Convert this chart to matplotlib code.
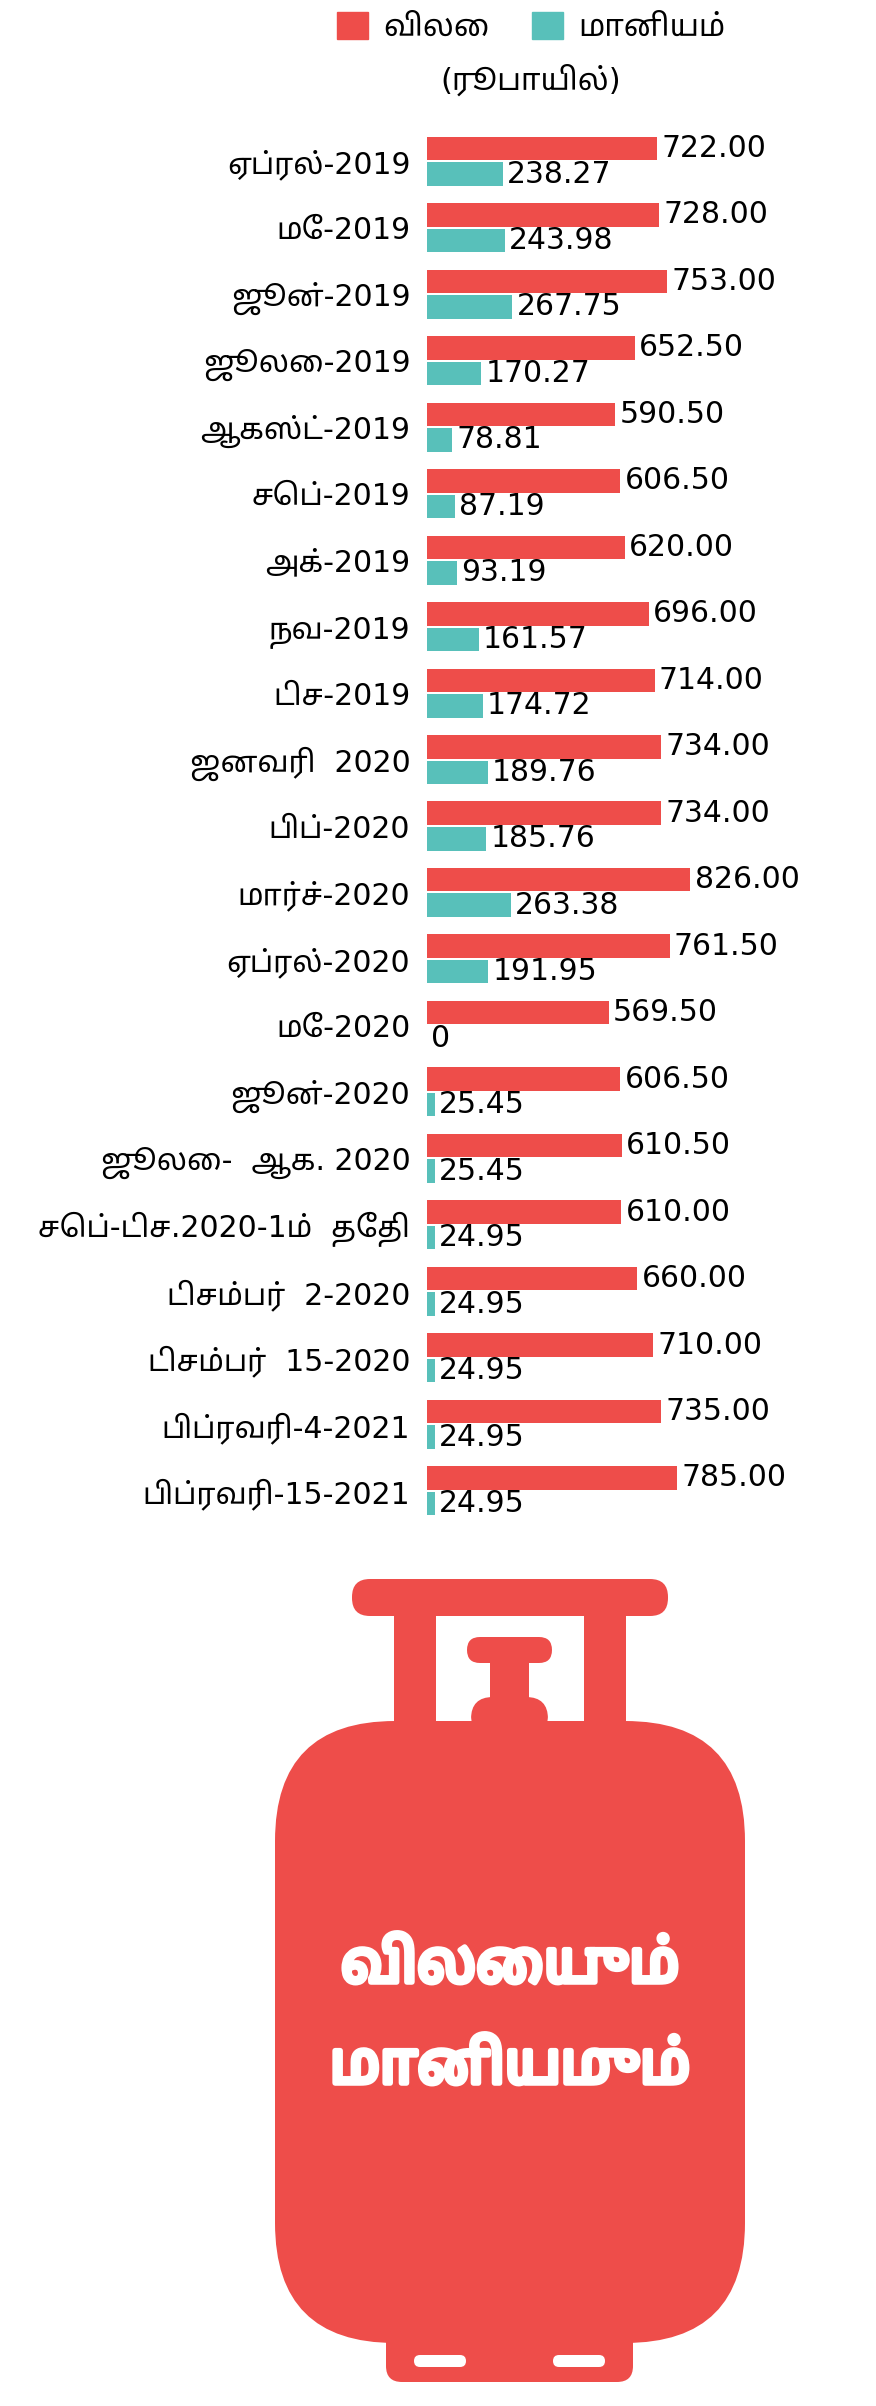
import numpy as np
import matplotlib.pyplot as plt
import matplotlib.patheffects as pe
from matplotlib import font_manager
from matplotlib.patches import FancyBboxPatch, Rectangle, Patch

# LPG cylinder price vs subsidy (rupees)
months = ['ஏப்ரல்-2019', 'மே-2019', 'ஜூன்-2019', 'ஜூலை-2019', 'ஆகஸ்ட்-2019',
          'செப்-2019', 'அக்-2019', 'நவ-2019', 'டிச-2019', 'ஜனவரி  2020',
          'பிப்-2020', 'மார்ச்-2020', 'ஏப்ரல்-2020', 'மே-2020', 'ஜூன்-2020',
          'ஜூலை-  ஆக. 2020', 'செப்-டிச.2020-1ம்  தேதி', 'டிசம்பர்  2-2020',
          'டிசம்பர்  15-2020', 'பிப்ரவரி-4-2021', 'பிப்ரவரி-15-2021']
price = [722.00, 728.00, 753.00, 652.50, 590.50, 606.50, 620.00, 696.00, 714.00, 734.00,
         734.00, 826.00, 761.50, 569.50, 606.50, 610.50, 610.00, 660.00, 710.00, 735.00,
         785.00]
subsidy = [238.27, 243.98, 267.75, 170.27, 78.81, 87.19, 93.19, 161.57, 174.72, 189.76,
           185.76, 263.38, 191.95, 0, 25.45, 25.45, 24.95, 24.95, 24.95, 24.95, 24.95]
legend_names = ['விலை', 'மானியம்']
unit_text = '(ரூபாயில்)'
title_lines = ['விலையும்', 'மானியமும்']

red = '#EE4D4A'
teal = '#58C0BA'

# pick up any font that has Tamil glyphs, keep DejaVu first for the digits
names = {f.name for f in font_manager.fontManager.ttflist}
tamil = [n for n in ['Noto Sans Tamil', 'Noto Serif Tamil', 'Lohit Tamil', 'Latha',
                     'Nirmala UI', 'FreeSans', 'FreeSerif'] if n in names]
plt.rcParams['font.family'] = ['DejaVu Sans'] + tamil

W, H = 876, 2406
fig = plt.figure(figsize=(W / 100, H / 100), dpi=100)

# background axes in pixel units for the cylinder drawing
bg = fig.add_axes([0, 0, 1, 1])
bg.set_xlim(0, W)
bg.set_ylim(H, 0)
bg.axis('off')

# bar chart
ax = fig.add_axes([427 / W, (H - 1524) / H, 440 / W, 1396 / H])
ax.set_facecolor('none')
y = np.arange(len(months))
bh = 0.354
off = 0.192
b1 = ax.barh(y - off, price, height=bh, color=red)
b2 = ax.barh(y + off, subsidy, height=bh, color=teal)
ax.set_xlim(0, 1380)
ax.set_ylim(len(months) - 0.5, -0.5)
ax.set_yticks(y, months)
ax.set_xticks([])
ax.tick_params(axis='y', length=0, pad=12, labelsize=21.5)
for s in ax.spines.values():
    s.set_visible(False)
ax.bar_label(b1, labels=[f'{v:.2f}' for v in price], padding=3, fontsize=21.5)
ax.bar_label(b2, labels=['0' if v == 0 else f'{v:.2f}' for v in subsidy],
             padding=3, fontsize=21.5)

# legend on top
handles = [Patch(color=red, label=legend_names[0]), Patch(color=teal, label=legend_names[1])]
fig.legend(handles=handles, ncol=2, loc='center', bbox_to_anchor=(531 / W, 1 - 27 / H),
           frameon=False, fontsize=22, handlelength=1.0, handleheight=1.0,
           handletextpad=0.5, columnspacing=1.4, borderpad=0, borderaxespad=0)
fig.text(531 / W, 1 - 80 / H, unit_text, ha='center', va='center', fontsize=22)

# gas cylinder
def rbox(x, y0, w, h, r, c=red):
    bg.add_patch(FancyBboxPatch((x, y0), w, h, boxstyle=f'round,pad=0,rounding_size={r}',
                                fc=c, ec='none'))

rbox(275, 1721, 470, 622, 120)              # body
rbox(386, 2300, 247, 82, 16)                # foot ring
rbox(414, 2355, 52, 12, 6, 'white')         # slots
rbox(553, 2355, 52, 12, 6, 'white')
rbox(352, 1579, 316, 37, 18)                # handle bar
bg.add_patch(Rectangle((394, 1605), 42, 125, fc=red, ec='none'))
bg.add_patch(Rectangle((584, 1605), 42, 125, fc=red, ec='none'))
rbox(471, 1697, 77, 40, 22)                 # valve base
bg.add_patch(Rectangle((490, 1655), 39, 50, fc=red, ec='none'))
rbox(467, 1637, 85, 26, 13)                 # valve top

heavy = [pe.withStroke(linewidth=4, foreground='white')]
bg.text(510, 1982, title_lines[0], ha='center', va='baseline', color='white',
        fontsize=42, fontweight='bold', path_effects=heavy)
bg.text(510, 2083, title_lines[1], ha='center', va='baseline', color='white',
        fontsize=42, fontweight='bold', path_effects=heavy)

fig.savefig('out.png', dpi=100)
